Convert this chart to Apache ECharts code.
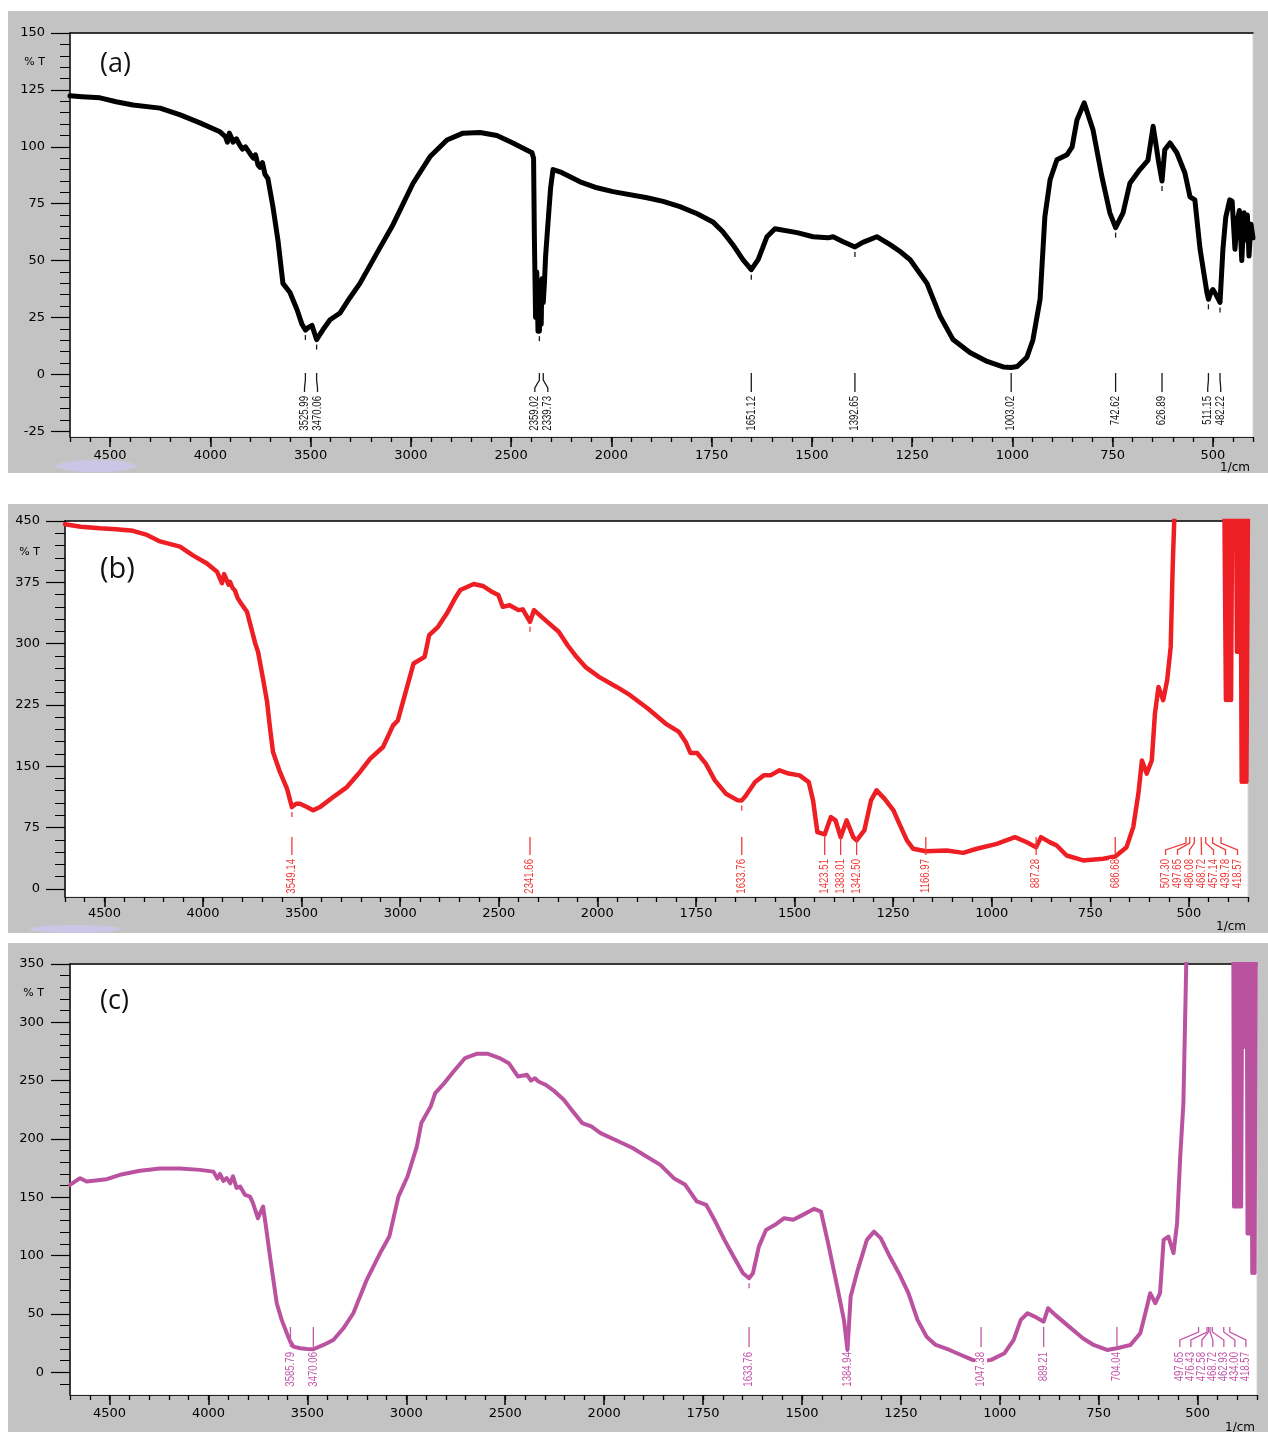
<!DOCTYPE html>
<html>
<head>
<meta charset="utf-8">
<script src="https://cdn.jsdelivr.net/npm/echarts/dist/echarts.min.js"></script>
<style>
html,body{margin:0;padding:0;background:#fff;}
#chart{width:1268px;height:1432px;}
</style>
</head>
<body>
<div id="chart"></div>
<script>
// ---------------- DATA (wavenumber 1/cm, %T) ----------------
const xTickLabels = [4500, 4000, 3500, 3000, 2500, 2000, 1750, 1500, 1250, 1000, 750, 500];
const aYTicks = [-25, 0, 25, 50, 75, 100, 125, 150];
const bYTicks = [0, 75, 150, 225, 300, 375, 450];
const cYTicks = [0, 50, 100, 150, 200, 250, 300, 350];

const aSpectrum = [
 [4700,122.4],[4640,122],[4550,121.5],[4470,119.8],[4386,118.4],[4251,117],[4150,114],[4052,110.5],
 [3952,106.6],[3925,104.5],[3915,102],[3905,106],[3895,104],[3887,102],[3870,103.5],[3855,101],
 [3840,99],[3825,100],[3802,97],[3785,95],[3775,96.5],[3762,92],[3752,91],[3740,93],[3728,88],
 [3713,86],[3688,73.7],[3663,59],[3638,40],[3603,36],[3568,28.5],[3543,22],[3525.99,19.5],
 [3513,20.5],[3493,21.5],[3480,18],[3470.06,15.3],[3438,19.7],[3403,24],[3353,27],[3304,33.7],
 [3254,40],[3154,55.7],[3089,65.8],[2989,84],[2905,95.6],[2820,103],[2740,106],[2655,106.3],
 [2571,105],[2491,101.7],[2396,97.4],[2388,95],[2384,60],[2378,25],[2372,45],[2366,19],[2362,40],
 [2359.02,19],[2354,35],[2350,22],[2346,42],[2339.73,31.6],[2334,40],[2328,52],[2316,66.7],
 [2303,82],[2291,90],[2256,89],[2156,84.6],[2072,82],[1996,80.3],[1911,77.6],[1871,76],
 [1829,73.7],[1786,70.6],[1747,67],[1722,62.7],[1697,57],[1672,50.4],[1651.12,46],[1634,50.4],
 [1612,60.5],[1592,64],[1537,62.3],[1497,60.5],[1460,60],[1447,60.5],[1422,58.3],[1392.65,56],
 [1373,58],[1338,60.5],[1305,57],[1280,54],[1255,50.4],[1213,40],[1180,25.5],[1148,15.3],
 [1106,9.6],[1063,5.7],[1023,3.3],[1003.02,3],[988,3.5],[964,7.5],[949,15],[931,33],[919,69.3],
 [906,85.5],[889,94.3],[864,96.5],[851,100],[839,111.8],[821,119.3],[799,107.5],[777,87],
 [757,71],[742.62,64.5],[724,71],[707,84],[682,90],[662,94],[649,109],[641,100],[636,94],
 [626.89,85],[620,98.7],[607,101.7],[590,97.4],[570,88.6],[557,78],[545,76.7],[532,55],
 [515,36],[511.15,33],[505,36],[500,37.3],[492,35],[482.22,31.6],[475,55],[468,69],[458,76.7],
 [452,76],[445,55],[440,66.7],[434,72],[428,50],[422,71],[418,59],[414,70],[410,52],[405,66],[400,60]
];

const bSpectrum = [
 [4700,446],[4620,443],[4522,441],[4440,440],[4355,438],[4284,433],[4218,425],[4117,418.6],
 [4051,408],[3980,398],[3929,388],[3915,380],[3904,374],[3893,385],[3883,383],[3870,372],
 [3863,375.7],[3850,368],[3838,365],[3825,356],[3812,351],[3795,345],[3777,339],[3762,325],
 [3746,310.4],[3735,300],[3721,290],[3696,257.4],[3675,228.7],[3660,196],[3645,167.4],[3610,143],
 [3574,122.5],[3549.14,100],[3528,104],[3508,104],[3473,100],[3442,96],[3407,100],[3341,112],
 [3270,124.5],[3204,143],[3153,159],[3087,173.5],[3036,200],[3012,206],[2986,228.7],[2932,275.7],
 [2876,283.8],[2853,310.4],[2808,320.6],[2763,337],[2717,357.4],[2695,365.6],[2627,373],
 [2581,370.5],[2536,363.5],[2502,359.4],[2480,345],[2445,347],[2400,341],[2378,341.9],
 [2341.66,326.7],[2321,341],[2264,328.8],[2196,314.5],[2151,298],[2106,283.8],[2061,271.6],
 [1996,259.3],[1951,247],[1917,236.9],[1872,220.6],[1827,202.2],[1793,191.9],[1776,179.7],
 [1764,166.2],[1747,166.2],[1725,153.2],[1702,132.7],[1674,116.4],[1645,108.5],[1633.76,108.2],
 [1625,113],[1600,130.6],[1578,138.8],[1561,138.8],[1538,145],[1515,141],[1487,138.8],
 [1464,130.6],[1453,108.2],[1442,69.4],[1423.51,66.5],[1408,87.7],[1396,83.7],[1383.01,63.2],
 [1368,83.7],[1351,63.2],[1342.5,59.2],[1323,71.4],[1306,108.2],[1292,120.5],[1272,110.3],
 [1249,96],[1238,83.7],[1215,59.2],[1199,49],[1166.97,46],[1114,47],[1072,44],[1038,49],
 [987,55],[941,63.2],[911,57],[887.28,51],[875,63.2],[853,57.1],[835,53],[810,40.8],[768,34.7],
 [717,36.8],[686.68,39.6],[658,51],[641,75.5],[628,116.4],[619,157],[607,141],[594,157],
 [586,214.5],[577,247],[565,230.8],[555,255.3],[546,296],[541,394],[535,480],[410,480],
 [406,231],[403,480],[400,231],[397,480],[393,231],[390,480],[380,480],[378,290],[375,480],
 [372,290],[369,480],[366,131],[363,480],[360,131],[357,480],[354,131],[350,480]
];

const cSpectrum = [
 [4700,160.7],[4649,166.4],[4616,163.5],[4514,165.5],[4447,169.3],[4346,172.7],[4245,174.7],
 [4144,174.7],[4043,173.5],[3975,172],[3955,166],[3942,170],[3925,164],[3908,166.4],[3890,162],
 [3876,168],[3858,158],[3840,159.2],[3815,152],[3790,150.6],[3775,145],[3765,144],[3750,132],
 [3739,136.4],[3724,142],[3712,128],[3705,127.8],[3689,99.2],[3672,79.2],[3655,59.2],[3630,44.9],
 [3604,33.5],[3585.79,26],[3571,22],[3537,20.6],[3500,20],[3470.06,19.7],[3419,23.4],[3369,27.7],
 [3318,37.7],[3268,50.6],[3200,79.2],[3133,102],[3086,116.3],[3040,150.6],[2994,167.8],
 [2947,193.5],[2924,213.6],[2877,227.8],[2854,239.3],[2808,247.9],[2761,257.9],[2703,269.4],
 [2645,273],[2587,273],[2529,269.4],[2482,265],[2436,253.6],[2390,255],[2370,250],[2350,252],
 [2332,249.3],[2297,246.5],[2250,240.7],[2204,233.6],[2158,223.6],[2111,213.6],[2065,210.7],
 [2018,205],[1963,197.8],[1928,192.2],[1893,185],[1858,177.8],[1824,166.4],[1795,160.7],
 [1766,146.4],[1742,143.5],[1719,129.2],[1696,113.5],[1673,99.2],[1649,84.9],[1633.76,80.6],
 [1624,84.9],[1609,107.7],[1591,122],[1568,126.4],[1545,132.1],[1522,130.7],[1498,134.9],
 [1469,140.1],[1452,137.8],[1434,110.7],[1411,73.4],[1394,44.9],[1384.94,19.1],[1377,64.9],
 [1359,87.8],[1336,113.5],[1318,120.6],[1301,115],[1278,99.2],[1255,84.9],[1231,67.8],
 [1208,44.9],[1185,30.5],[1162,23.4],[1127,19.1],[1098,14.8],[1069,10.6],[1047.38,9.5],
 [1022,10.6],[988,16.3],[965,27.7],[947,44.9],[930,50.6],[912,47.7],[889.21,43.4],[878,54.9],
 [860,49.2],[825,39.1],[790,29.2],[763,23.4],[729,19.1],[704.04,20.6],[670,23.4],[645,33.5],
 [628,56.3],[620,67.8],[607,59.2],[595,67.8],[586,113.5],[574,116.3],[561,102.1],[552,127.8],
 [544,185],[536,230.8],[527,380],[410,380],[408,142],[405,380],[402,142],[399,380],[396,142],
 [393,380],[390,142],[387,380],[384,279],[381,380],[378,279],[376,380],[374,119],[371,380],
 [368,119],[365,380],[362,85],[359,380],[356,85],[353,380],[350,380]
];

const aPeaks = [3525.99, 3470.06, 2359.02, 2339.73, 1651.12, 1392.65, 1003.02, 742.62, 626.89, 511.15, 482.22];
const aPeakT = [19.5, 15.3, 19, 31.6, 46, 56, 3, 64.5, 85, 33, 31.6];
const bPeaks = [3549.14, 2341.66, 1633.76, 1423.51, 1383.01, 1342.50, 1166.97, 887.28, 686.68,
                507.30, 497.65, 486.08, 468.72, 457.14, 439.78, 418.57];
const bPeakT = [100, 326.7, 108.2, 66.5, 63.2, 59.2, 46, 51, 39.6, null, null, null, null, null, null, null];
const cPeaks = [3585.79, 3470.06, 1633.76, 1384.94, 1047.38, 889.21, 704.04,
                497.65, 476.43, 472.58, 468.72, 462.93, 434.00, 418.57];
const cPeakT = [26, 19.7, 80.6, 19.1, 9.5, 43.4, 20.6, null, null, null, null, null, null, null];

// ---------------- SCALE (FTIR axis: half scale above 2000 1/cm) ----------------
const toAxis = w => (w > 2000 ? 2000 + (w - 2000) / 2 : w);
const fromAxis = u => (u > 2000 ? 2000 + (u - 2000) * 2 : u);
function range(a, b, step) { const r = []; for (let v = a; v <= b + 1e-9; v += step) r.push(+v.toFixed(6)); return r; }

function spread(xs, gap) {
  const idx = xs.map((x, i) => i).sort((p, q) => xs[p] - xs[q]);
  let clusters = idx.map(i => ({ ids: [i], center: xs[i] }));
  let merged = true;
  while (merged) {
    merged = false;
    for (let c = 0; c < clusters.length - 1; c++) {
      const A = clusters[c], B = clusters[c + 1];
      const aEnd = A.center + (A.ids.length - 1) / 2 * gap;
      const bStart = B.center - (B.ids.length - 1) / 2 * gap;
      if (bStart - aEnd < gap) {
        const ids = A.ids.concat(B.ids);
        const center = ids.reduce((s, i) => s + xs[i], 0) / ids.length;
        clusters.splice(c, 2, { ids, center });
        merged = true; break;
      }
    }
  }
  const out = [];
  clusters.forEach(C => C.ids.forEach((i, j) => { out[i] = C.center + (j - (C.ids.length - 1) / 2) * gap; }));
  return out;
}

// ---------------- PANEL STYLES / LAYOUT ----------------
const panels = [
  { title: '(a)', spectrum: aSpectrum, peaks: aPeaks, peakT: aPeakT, yTicks: aYTicks, yMinorStart: -25, yMinorStep: 5,
    grid: { left: 70, top: 33, width: 1183, height: 404 }, uMin: 400, uMax: 3350, yMin: -27.5, yMax: 150,
    color: '#000000', lineWidth: 5, labelColor: '#1a1a1a', frame: [8, 11, 1260, 462], gap: 13,
    lab: { lineTop: 64, bendTop: 57, bendBot: 49, lineBot: 45, textTop: 41 },
    xLabelMargin: 12, yLabelMargin: 25, titlePos: [100, 64], titleSize: 27, pctPos: [45, 62], unitPos: [1250, 468] },
  { title: '(b)', spectrum: bSpectrum, peaks: bPeaks, peakT: bPeakT, yTicks: bYTicks, yMinorStart: 0, yMinorStep: 15,
    grid: { left: 65, top: 521, width: 1183, height: 376 }, uMin: 350, uMax: 3350, yMin: -10, yMax: 450,
    color: '#ed1f24', lineWidth: 4.5, labelColor: '#ef3b3b', frame: [8, 504, 1260, 429], gap: 12,
    lab: { lineTop: 60, bendTop: 54, bendBot: 47, lineBot: 42, textTop: 38 },
    xLabelMargin: 10, yLabelMargin: 25, titlePos: [100, 570], titleSize: 29, pctPos: [40, 552], unitPos: [1246, 927] },
  { title: '(c)', spectrum: cSpectrum, peaks: cPeaks, peakT: cPeakT, yTicks: cYTicks, yMinorStart: -10, yMinorStep: 10,
    grid: { left: 70, top: 964, width: 1187, height: 431 }, uMin: 350, uMax: 3350, yMin: -19.5, yMax: 350,
    color: '#bb52a0', lineWidth: 4, labelColor: '#c357aa', frame: [8, 943, 1260, 489], gap: 11,
    lab: { lineTop: 68, bendTop: 63, bendBot: 55, lineBot: 48, textTop: 43 },
    xLabelMargin: 12, yLabelMargin: 26, titlePos: [100, 1001], titleSize: 27, pctPos: [44, 993], unitPos: [1255, 1428] }
];

function labelRenderer(P) {
  return function (params, api) {
    const cs = params.coordSys;
    const bottom = cs.y + cs.height;
    const xs = P.peaks.map(p => api.coord([toAxis(p), 0])[0]);
    const lx = spread(xs, P.gap);
    const k = params.dataIndex;
    const px = xs[k], tx = lx[k], L = P.lab;
    const pts = [[px, bottom - L.lineTop]];
    if (Math.abs(tx - px) > 0.6) pts.push([px, bottom - L.bendTop], [tx, bottom - L.bendBot]);
    pts.push([tx, bottom - L.lineBot]);
    const children = [
      { type: 'polyline', shape: { points: pts }, style: { stroke: P.labelColor, lineWidth: 1.3, fill: null } },
      { type: 'text', x: tx, y: bottom - L.textTop, rotation: Math.PI / 2, scaleX: 0.8, scaleY: 1,
        style: { text: P.peaks[k].toFixed(2), fill: P.labelColor,
                 font: '12px "Liberation Sans", Arial, sans-serif',
                 align: 'right', verticalAlign: 'middle', textAlign: 'right', textVerticalAlign: 'middle',
                 backgroundColor: '#ffffff' } }
    ];
    const t = P.peakT[k];
    if (t != null) {
      const py = api.coord([toAxis(P.peaks[k]), t])[1];
      if (py + 10 < bottom - L.lineTop - 2) {
        children.push({ type: 'line', shape: { x1: px, y1: py + 5, x2: px, y2: py + 10 },
                        style: { stroke: P.labelColor, lineWidth: 1.3 } });
      }
    }
    return { type: 'group', children };
  };
}

const option = { animation: false, backgroundColor: '#ffffff', grid: [], xAxis: [], yAxis: [], series: [], graphic: [] };
const axisFont = 'DejaVu Sans';

panels.forEach((P, i) => {
  option.grid.push(Object.assign({ show: true, backgroundColor: '#ffffff', borderColor: '#d6d6d6', borderWidth: 1 }, P.grid));
  const xi = option.xAxis.length, yi = option.yAxis.length;
  const xMajor = xTickLabels.map(toAxis).filter(u => u >= P.uMin && u <= P.uMax);
  const xMinor = range(P.uMin, P.uMax, 50);
  const baseX = { gridIndex: i, type: 'value', inverse: true, min: P.uMin, max: P.uMax, splitLine: { show: false } };
  option.xAxis.push(Object.assign({}, baseX, {
    position: 'bottom',
    axisLine: { show: true, onZero: false, lineStyle: { color: '#222', width: 1.2 } },
    axisTick: { show: true, customValues: xMajor, length: 10, lineStyle: { color: '#000', width: 1.5 } },
    axisLabel: { show: true, customValues: xMajor, formatter: v => String(Math.round(fromAxis(v))),
                 color: '#000', fontSize: 13, fontFamily: axisFont, margin: P.xLabelMargin }
  }));
  option.xAxis.push(Object.assign({}, baseX, {
    position: 'bottom',
    axisLine: { show: false, onZero: false },
    axisTick: { show: true, customValues: xMinor, length: 5, lineStyle: { color: '#000', width: 1.3 } },
    axisLabel: { show: false }
  }));
  option.xAxis.push(Object.assign({}, baseX, {
    position: 'top',
    axisLine: { show: true, onZero: false, lineStyle: { color: '#000', width: 1.5 } },
    axisTick: { show: false }, axisLabel: { show: false }
  }));
  const baseY = { gridIndex: i, type: 'value', min: P.yMin, max: P.yMax, position: 'left', splitLine: { show: false } };
  option.yAxis.push(Object.assign({}, baseY, {
    axisLine: { show: true, onZero: false, lineStyle: { color: '#000', width: 1.5 } },
    axisTick: { show: true, customValues: P.yTicks, length: 19, lineStyle: { color: '#000', width: 1.2 } },
    axisLabel: { show: true, customValues: P.yTicks, color: '#000', fontSize: 13, fontFamily: axisFont, margin: P.yLabelMargin }
  }));
  option.yAxis.push(Object.assign({}, baseY, {
    axisLine: { show: false, onZero: false },
    axisTick: { show: true, customValues: range(P.yMinorStart, P.yMax, P.yMinorStep), length: 10, lineStyle: { color: '#000', width: 1 } },
    axisLabel: { show: false }
  }));
  option.series.push({
    type: 'line', xAxisIndex: xi, yAxisIndex: yi, silent: true, z: 2,
    data: P.spectrum.map(([w, t]) => [toAxis(w), t]),
    symbol: 'none', showSymbol: false, clip: true,
    lineStyle: { color: P.color, width: P.lineWidth, join: 'round', cap: 'round' }
  });
  option.series.push({
    type: 'custom', xAxisIndex: xi, yAxisIndex: yi, silent: true, z: 3, clip: false,
    data: P.peaks.map((p, k) => [toAxis(p), k]),
    renderItem: labelRenderer(P)
  });

  option.graphic.push({ type: 'rect', z: -10, silent: true,
    shape: { x: P.frame[0], y: P.frame[1], width: P.frame[2], height: P.frame[3] }, style: { fill: '#c3c3c3' } });
  option.graphic.push({ type: 'text', z: 10, silent: true, x: P.titlePos[0], y: P.titlePos[1],
    style: { text: P.title, fill: '#111', font: P.titleSize + 'px "Open Sans", sans-serif',
             align: 'left', verticalAlign: 'middle', textAlign: 'left', textVerticalAlign: 'middle' } });
  option.graphic.push({ type: 'text', z: 10, silent: true, x: P.pctPos[0], y: P.pctPos[1],
    style: { text: '% T', fill: '#000', font: '11px "DejaVu Sans", sans-serif',
             align: 'right', verticalAlign: 'middle', textAlign: 'right', textVerticalAlign: 'middle' } });
  option.graphic.push({ type: 'text', z: 10, silent: true, x: P.unitPos[0], y: P.unitPos[1],
    style: { text: '1/cm', fill: '#000', font: '12px "DejaVu Sans", sans-serif',
             align: 'right', verticalAlign: 'middle', textAlign: 'right', textVerticalAlign: 'middle' } });
});

// faint lavender marks at bottom-left of panels (a) and (b)
option.graphic.push({ type: 'ellipse', z: -5, silent: true, shape: { cx: 96, cy: 466, rx: 40, ry: 6 }, style: { fill: '#cdc6ea', opacity: 0.9 } });
option.graphic.push({ type: 'ellipse', z: -5, silent: true, shape: { cx: 75, cy: 929, rx: 45, ry: 4 }, style: { fill: '#cdc6ea', opacity: 0.9 } });

const chart = echarts.init(document.getElementById('chart'), null, { renderer: 'canvas' });
chart.setOption(option);
</script>
</body>
</html>
